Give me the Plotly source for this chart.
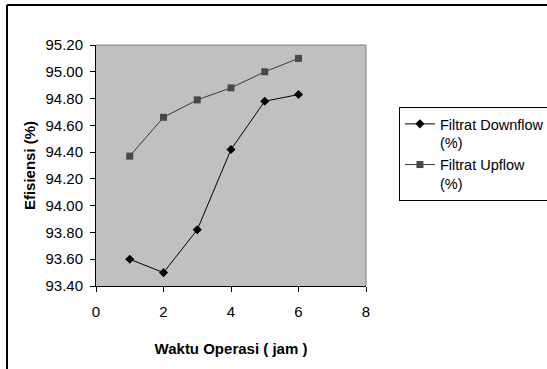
import plotly.graph_objects as go

waktu = [1, 2, 3, 4, 5, 6]
downflow = [93.60, 93.50, 93.82, 94.42, 94.78, 94.83]
upflow = [94.37, 94.66, 94.79, 94.88, 95.00, 95.10]
y_ticks = [93.40, 93.60, 93.80, 94.00, 94.20, 94.40, 94.60, 94.80, 95.00, 95.20]
x_ticks = [0, 2, 4, 6, 8]

FONT = "Liberation Sans, Arial, sans-serif"

fig = go.Figure()
fig.add_trace(go.Scatter(
    x=waktu, y=downflow, mode="lines+markers", name="Filtrat Downflow<br>(%)",
    line=dict(color="#000000", width=1),
    marker=dict(symbol="diamond", size=7, color="#000000"),
))
fig.add_trace(go.Scatter(
    x=waktu, y=upflow, mode="lines+markers", name="Filtrat Upflow<br>(%)",
    line=dict(color="#3a3a3a", width=1),
    marker=dict(symbol="square", size=7, color="#484848"),
))

fig.update_layout(
    width=547, height=369,
    margin=dict(l=96, r=181, t=45, b=83, autoexpand=False),
    paper_bgcolor="white", plot_bgcolor="#C0C0C0",
    font=dict(family=FONT, size=15, color="black"),
    showlegend=True,
    legend=dict(
        x=1.122, y=0.743, xanchor="left", yanchor="top",
        bordercolor="black", borderwidth=1, bgcolor="white",
        font=dict(family=FONT, size=14.5),
        tracegroupgap=0, itemwidth=30, valign="top",
    ),
    xaxis=dict(
        range=[0, 8], tickvals=x_ticks, ticktext=[str(v) for v in x_ticks],
        showgrid=False, zeroline=False, showline=True, linecolor="black", linewidth=1,
        ticks="outside", ticklen=5, tickcolor="black", ticklabelstandoff=7,
        title=dict(text="<b>Waktu Operasi ( jam )</b>", font=dict(size=15), standoff=24),
    ),
    yaxis=dict(
        range=[93.40, 95.20], tickvals=y_ticks, ticktext=[f"{v:.2f}" for v in y_ticks],
        showgrid=False, zeroline=False, showline=True, linecolor="black", linewidth=1,
        ticks="outside", ticklen=5, tickcolor="black", ticklabelstandoff=4,
        title=dict(text="<b>Efisiensi (%)</b>", font=dict(size=15), standoff=6),
    ),
    shapes=[
        dict(type="line", xref="paper", yref="paper", x0=0, x1=1, y0=1, y1=1,
             line=dict(color="#808080", width=1)),
        dict(type="line", xref="paper", yref="paper", x0=1, x1=1, y0=0, y1=1,
             line=dict(color="#808080", width=1)),
        dict(type="line", xref="paper", yref="paper", x0=-0.3296, x1=1.8, y0=1.166, y1=1.166,
             line=dict(color="black", width=2)),
        dict(type="line", xref="paper", yref="paper", x0=-0.3296, x1=-0.3296, y0=1.166, y1=-0.4,
             line=dict(color="black", width=2)),
    ],
)

fig.write_html("out.html")
